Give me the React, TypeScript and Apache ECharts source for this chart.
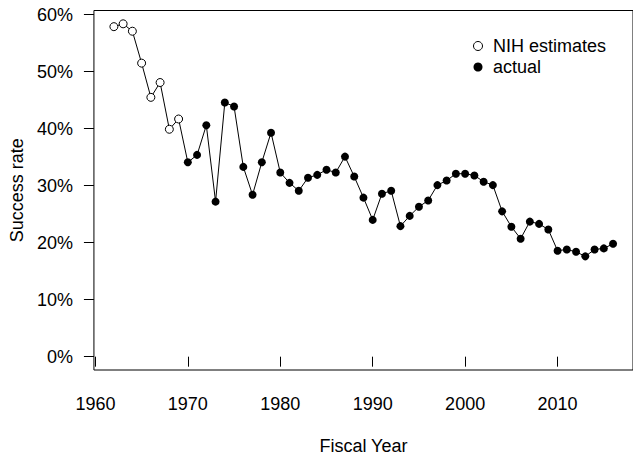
import React, { useEffect, useRef } from "react";
import * as echarts from "echarts";

const estimateYears = [1962, 1963, 1964, 1965, 1966, 1967, 1968, 1969];
const estimateRates = [57.9, 58.4, 57.1, 51.5, 45.5, 48.1, 39.9, 41.7];

const actualYears = [
  1970, 1971, 1972, 1973, 1974, 1975, 1976, 1977, 1978, 1979,
  1980, 1981, 1982, 1983, 1984, 1985, 1986, 1987, 1988, 1989,
  1990, 1991, 1992, 1993, 1994, 1995, 1996, 1997, 1998, 1999,
  2000, 2001, 2002, 2003, 2004, 2005, 2006, 2007, 2008, 2009,
  2010, 2011, 2012, 2013, 2014, 2015, 2016,
];
const actualRates = [
  34.1, 35.4, 40.6, 27.2, 44.6, 43.9, 33.3, 28.4, 34.1, 39.3,
  32.3, 30.5, 29.1, 31.4, 31.9, 32.8, 32.3, 35.1, 31.6, 27.9,
  24.0, 28.6, 29.1, 22.9, 24.7, 26.3, 27.4, 30.1, 30.9, 32.1,
  32.1, 31.8, 30.7, 30.1, 25.5, 22.8, 20.7, 23.7, 23.3, 22.3,
  18.6, 18.8, 18.4, 17.6, 18.8, 19.0, 19.8,
];

const xTicks = [1960, 1970, 1980, 1990, 2000, 2010];
const yTicks = [0, 10, 20, 30, 40, 50, 60];

const FONT = "'Liberation Sans', Arial, Helvetica, sans-serif";

export default function App() {
  const ref = useRef<HTMLDivElement>(null);

  useEffect(() => {
    if (!ref.current) return;
    const chart = echarts.init(ref.current, undefined, { renderer: "svg" });

    const allYears = [...estimateYears, ...actualYears];
    const allRates = [...estimateRates, ...actualRates];
    const xLo = Math.min(...allYears);
    const xHi = Math.max(...allYears);
    const xPad = (xHi - xLo) * 0.04;
    const yLo = 0;
    const yHi = Math.max(...allRates);
    const yPad = (yHi - yLo) * 0.04;

    const pxPerYear = 9.333;
    const gridLeft = 91.5;
    const gridTop = 10.5;
    const gridBottomY = 370.5;

    const option: any = {
      animation: false,
      backgroundColor: "#fff",
      textStyle: { fontFamily: FONT },
      grid: {
        left: gridLeft,
        top: gridTop,
        width: (xHi + xPad - (xLo - xPad)) * pxPerYear,
        height: gridBottomY - gridTop,
        show: true,
        borderColor: "#000",
        borderWidth: 1,
        backgroundColor: "transparent",
        containLabel: false,
      },
      legend: {
        orient: "vertical",
        left: 473,
        top: 37,
        padding: 0,
        itemWidth: 20,
        itemHeight: 9,
        itemGap: 3,
        textStyle: { fontSize: 18, color: "#000", fontFamily: FONT, lineHeight: 18 },
        data: [
          {
            name: "NIH estimates",
            icon: "circle",
            itemStyle: { color: "#fff", borderColor: "#000", borderWidth: 1 },
          },
          {
            name: "actual",
            icon: "circle",
            itemStyle: { color: "#000", borderWidth: 0 },
          },
        ],
      },
      xAxis: {
        type: "value",
        min: xLo - xPad,
        max: xHi + xPad,
        axisLine: { show: false },
        splitLine: { show: false },
        axisTick: {
          show: true,
          length: 10,
          customValues: xTicks,
          lineStyle: { color: "#000", width: 1 },
        },
        axisLabel: {
          customValues: xTicks,
          fontSize: 18,
          color: "#000",
          fontFamily: FONT,
          margin: 25,
          formatter: (v: number) => String(v),
        },
        name: "Fiscal Year",
        nameLocation: "middle",
        nameGap: 67,
        nameTextStyle: { fontSize: 18, color: "#000", fontFamily: FONT },
      },
      yAxis: {
        type: "value",
        min: yLo - yPad,
        max: yHi + yPad,
        axisLine: { show: false },
        splitLine: { show: false },
        axisTick: {
          show: true,
          length: 10,
          customValues: yTicks,
          lineStyle: { color: "#000", width: 1 },
        },
        axisLabel: {
          customValues: yTicks,
          fontSize: 18,
          color: "#000",
          fontFamily: FONT,
          margin: 21,
          formatter: (v: number) => `${v}%`,
        },
        name: "Success rate",
        nameLocation: "middle",
        nameRotate: 90,
        nameGap: 65,
        nameTextStyle: { fontSize: 18, color: "#000", fontFamily: FONT },
      },
      series: [
        {
          name: "connector",
          type: "line",
          data: allYears.map((y, i) => [y, allRates[i]]),
          symbol: "none",
          lineStyle: { color: "#000", width: 1 },
          silent: true,
          z: 1,
        },
        {
          name: "NIH estimates",
          type: "scatter",
          data: estimateYears.map((y, i) => [y, estimateRates[i]]),
          symbol: "circle",
          symbolSize: 8,
          itemStyle: { color: "#fff", borderColor: "#000", borderWidth: 1, opacity: 1 },
          z: 2,
        },
        {
          name: "actual",
          type: "scatter",
          data: actualYears.map((y, i) => [y, actualRates[i]]),
          symbol: "circle",
          symbolSize: 8,
          itemStyle: { color: "#000", opacity: 1 },
          z: 2,
        },
      ],
    };

    chart.setOption(option);
    return () => chart.dispose();
  }, []);

  return (
    <div
      ref={ref}
      style={{ position: "fixed", left: 0, top: 0, width: 633, height: 460, background: "#fff" }}
    />
  );
}
